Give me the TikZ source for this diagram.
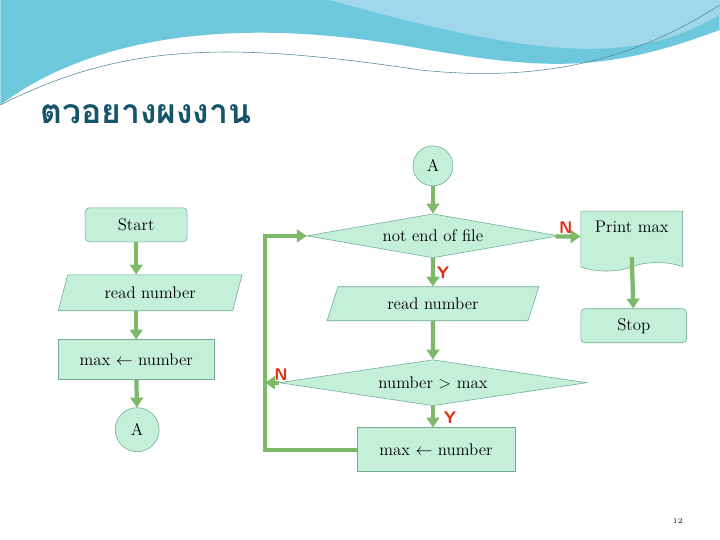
\documentclass[tikz,border=0pt]{standalone}
\usepackage{fontspec}
\newfontfamily\thaifont[Script=Thai]{Loma}
\usetikzlibrary{shapes.geometric,shapes.symbols,arrows.meta}
\definecolor{boxfill}{RGB}{196,240,218}
\definecolor{boxline}{RGB}{110,170,150}
\definecolor{flow}{RGB}{125,185,105}
\definecolor{yn}{RGB}{220,50,20}
\definecolor{titlec}{RGB}{20,85,105}
\definecolor{waveA}{RGB}{110,200,220}
\definecolor{waveB}{RGB}{160,215,235}
\tikzset{
  box/.style={draw=boxline,fill=boxfill,font=\large},
  iobox/.style={box,trapezium,trapezium left angle=70,trapezium right angle=110,trapezium stretches=true,inner sep=1pt},
  flowline/.style={draw=flow,line width=3pt,-{Triangle[length=7pt,width=9pt]}},
  ynlabel/.style={text=yn,font=\sffamily\bfseries\large}
}
\begin{document}
\begin{tikzpicture}[x=0.025cm,y=-0.025cm]
      \fill[white] (0,0) rectangle (720,540);
      \fill[waveA] (0,0) -- (720,0) -- (720,30) .. controls (600,75) and (540,70) .. (400,45)
        .. controls (250,20) and (100,30) .. (0,105) -- cycle;
      \fill[waveB] (330,0) -- (720,0) -- (720,15) .. controls (640,60) and (560,65) .. (330,0);
      \draw[waveA!70!black,thin] (0,105) .. controls (120,45) and (220,40) .. (420,70)
        .. controls (560,85) and (650,50) .. (720,5);
      \node[text=titlec,font=\thaifont\bfseries\fontsize{24}{28}\selectfont,anchor=west] (title) at (35,114) {ตวอยางผงงาน};
      % left column
      \node[box,rounded corners=3pt,minimum width=2.55cm,minimum height=0.85cm] (start) at (136,225) {Start};
      \node[iobox,minimum width=4.6cm,minimum height=0.9cm] (readL) at (150,293) {read number};
      \node[box,minimum width=3.9cm,minimum height=1cm] (assignL) at (136,360) {max $\leftarrow$ number};
      \node[box,circle,minimum size=1.1cm] (connL) at (137,430) {A};
      \draw[flowline] (start) -- (start |- readL.north);
      \draw[flowline] (start |- readL.south) -- (assignL);
      \draw[flowline] (assignL) -- (connL);
      % right column
      \node[box,circle,minimum size=1cm] (connR) at (433,166) {A};
      \node[box,diamond,aspect=6,minimum width=6.3cm,minimum height=1.1cm,inner sep=0pt] (eof) at (433,236) {not end of file};
      \node[iobox,minimum width=5.3cm,minimum height=0.85cm] (readR) at (433,304) {read number};
      \node[box,diamond,aspect=7,minimum width=7.7cm,minimum height=1.15cm,inner sep=0pt] (cmp) at (433,383) {number $>$ max};
      \node[box,minimum width=3.95cm,minimum height=1.1cm] (assignR) at (436,450) {max $\leftarrow$ number};
      \node[box,tape,tape bend top=none,tape bend height=6pt,minimum width=2.55cm,minimum height=1.5cm,text depth=0.5cm] (print) at (632,237) {Print max};
      \node[box,rounded corners=3pt,minimum width=2.65cm,minimum height=0.85cm] (stop) at (634,326) {Stop};
      \coordinate (loopB) at (265,450);
      \coordinate (loopT) at (265,236);
      \coordinate (loopN) at (265,383);
      \draw[flowline] (connR) -- (eof);
      \draw[flowline] (eof) -- (readR);
      \draw[flowline] (readR) -- (cmp);
      \draw[flowline] (cmp) -- (assignR.north -| cmp);
      \draw[flowline] (eof) -- (print);
      \draw[flowline] (print.south) ++(0,-6) -- (stop);
      \draw[flowline] (assignR.west) -- (loopB) -- (loopT) -- (eof.west);
      \draw[flowline] (cmp.west) -- (loopN);
      \node[ynlabel] (nL) at (281,375) {N};
      \node[ynlabel] (nR) at (566,228) {N};
      \node[ynlabel] (yA) at (443,273) {Y};
      \node[ynlabel] (yB) at (450,418) {Y};
      \node[font=\tiny] (page) at (678,522) {12};
\end{tikzpicture}
\end{document}
